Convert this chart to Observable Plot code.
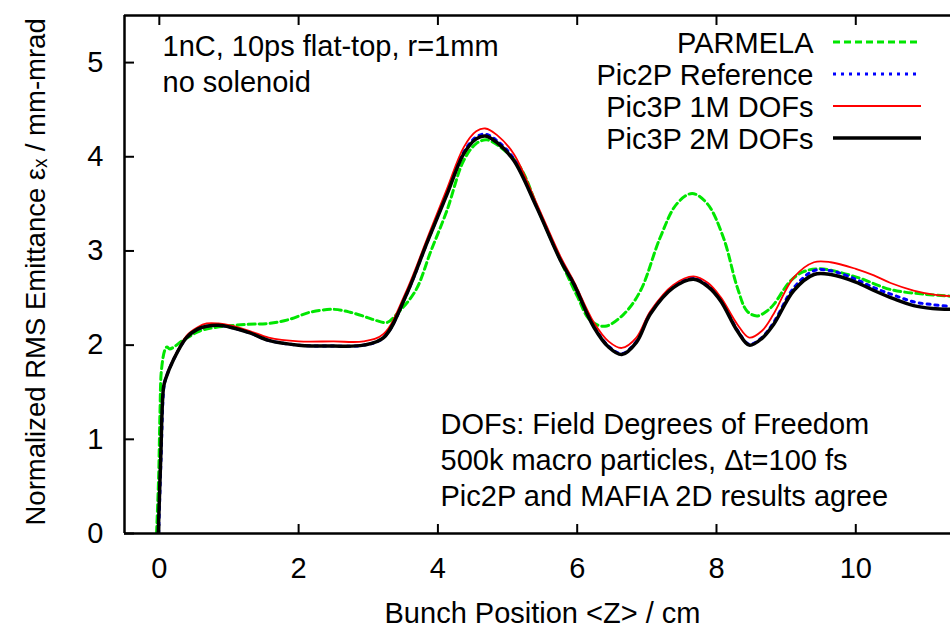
<!DOCTYPE html>
<html><head><meta charset="utf-8">
<script src="https://cdn.jsdelivr.net/npm/d3@7"></script>
<script src="https://cdn.jsdelivr.net/npm/@observablehq/plot@0.6"></script>
<style>html,body{margin:0;padding:0;background:#fff;overflow:hidden}</style>
</head><body><div id="chart"></div>
<script>
// ---- data ----
const seriesNames = ["PARMELA", "Pic2P Reference", "Pic3P 1M DOFs", "Pic3P 2M DOFs"];

const parmelaZ = [-0.04, -0.01, 0.01, 0.03, 0.08, 0.11, 0.15, 0.34, 0.58, 0.82, 1.26, 1.57, 1.85, 2.17, 2.50, 2.74, 3.0, 3.12, 3.27, 3.41, 3.68, 3.9, 4.13, 4.37, 4.55, 4.70, 4.9, 5.18, 5.45, 5.76, 6.0, 6.19, 6.40, 6.67, 6.91, 7.19, 7.43, 7.65, 7.87, 8.10, 8.30, 8.44, 8.58, 8.72, 8.82, 9.06, 9.25, 9.49, 10.02, 10.5, 11.0, 11.36];
const parmelaE = [0, 0.6, 1.3, 1.73, 1.95, 1.98, 1.96, 2.05, 2.15, 2.19, 2.22, 2.23, 2.27, 2.35, 2.38, 2.35, 2.29, 2.26, 2.24, 2.33, 2.58, 3.00, 3.43, 3.96, 4.14, 4.18, 4.10, 3.89, 3.42, 2.90, 2.52, 2.26, 2.20, 2.33, 2.58, 3.14, 3.50, 3.61, 3.50, 3.14, 2.61, 2.36, 2.31, 2.36, 2.43, 2.68, 2.78, 2.81, 2.72, 2.59, 2.54, 2.52];

const pic2pZ = [-0.01, 0.025, 0.065, 0.09, 0.2, 0.39, 0.55, 0.68, 0.85, 1.02, 1.3, 1.57, 2.0, 2.5, 2.93, 3.22, 3.55, 3.85, 4.13, 4.37, 4.55, 4.68, 4.85, 5.09, 5.42, 5.76, 5.95, 6.24, 6.45, 6.64, 6.85, 7.05, 7.38, 7.67, 7.88, 8.06, 8.30, 8.47, 8.65, 8.82, 9.11, 9.40, 9.64, 10.0, 10.26, 10.55, 10.83, 11.1, 11.36];
const pic2pE = [0, 0.8, 1.55, 1.64, 1.84, 2.08, 2.17, 2.20, 2.21, 2.19, 2.13, 2.05, 2.00, 1.99, 2.00, 2.08, 2.54, 3.10, 3.61, 4.05, 4.21, 4.24, 4.17, 3.98, 3.47, 2.91, 2.66, 2.20, 1.99, 1.91, 2.04, 2.34, 2.62, 2.71, 2.63, 2.48, 2.16, 2.01, 2.08, 2.24, 2.61, 2.79, 2.79, 2.70, 2.61, 2.53, 2.46, 2.43, 2.41];

const pic3p1mZ = [-0.015, 0.02, 0.06, 0.09, 0.2, 0.39, 0.55, 0.68, 0.85, 1.02, 1.3, 1.57, 2.0, 2.5, 2.93, 3.22, 3.55, 3.85, 4.13, 4.37, 4.55, 4.68, 4.85, 5.09, 5.42, 5.76, 5.95, 6.24, 6.45, 6.64, 6.85, 7.05, 7.38, 7.67, 7.88, 8.06, 8.30, 8.47, 8.65, 8.82, 9.11, 9.40, 9.64, 10.0, 10.26, 10.5, 10.83, 11.1, 11.36];
const pic3p1mE = [0, 0.8, 1.55, 1.65, 1.85, 2.10, 2.19, 2.23, 2.23, 2.21, 2.15, 2.08, 2.04, 2.04, 2.04, 2.12, 2.58, 3.14, 3.66, 4.10, 4.27, 4.30, 4.23, 4.03, 3.50, 2.94, 2.68, 2.24, 2.04, 1.97, 2.08, 2.36, 2.64, 2.73, 2.66, 2.51, 2.22, 2.08, 2.15, 2.33, 2.72, 2.88, 2.88, 2.81, 2.74, 2.66, 2.58, 2.54, 2.52];

const pic3p2mZ = [-0.015, 0.02, 0.06, 0.09, 0.2, 0.39, 0.55, 0.68, 0.85, 1.02, 1.3, 1.57, 2.0, 2.5, 2.93, 3.22, 3.55, 3.85, 4.13, 4.37, 4.55, 4.68, 4.85, 5.09, 5.42, 5.76, 5.95, 6.24, 6.45, 6.64, 6.85, 7.05, 7.38, 7.67, 7.88, 8.06, 8.30, 8.47, 8.65, 8.82, 9.11, 9.40, 9.64, 10.0, 10.26, 10.55, 10.83, 11.1, 11.36];
const pic3p2mE = [0, 0.8, 1.55, 1.64, 1.84, 2.08, 2.17, 2.20, 2.21, 2.19, 2.13, 2.05, 2.00, 1.99, 2.00, 2.08, 2.54, 3.10, 3.60, 4.03, 4.19, 4.22, 4.15, 3.96, 3.46, 2.90, 2.65, 2.19, 1.98, 1.90, 2.03, 2.33, 2.61, 2.70, 2.62, 2.47, 2.15, 2.00, 2.07, 2.22, 2.58, 2.75, 2.75, 2.67, 2.58, 2.49, 2.42, 2.39, 2.38];

const xTicks = [0, 2, 4, 6, 8, 10];
const yTicks = [0, 1, 2, 3, 4, 5];
const xLabel = "Bunch Position <Z> / cm";
const yLabel = "Normalized RMS Emittance εₓ / mm-mrad";
const noteTop = "1nC, 10ps flat-top, r=1mm\nno solenoid";
const noteBottom = "DOFs: Field Degrees of Freedom\n500k macro particles, Δt=100 fs\nPic2P and MAFIA 2D results agree";

// ---- build table ----
const seriesData = [[parmelaZ, parmelaE], [pic2pZ, pic2pE], [pic3p1mZ, pic3p1mE], [pic3p2mZ, pic3p2mE]];
const rows = [];
seriesData.forEach(([zs, es], i) => zs.forEach((z, j) => rows.push({series: seriesNames[i], z, e: es[j]})));

// ---- styles ----
const styles = {
  "PARMELA": {stroke: "#00e600", strokeWidth: 3, dash: "7,4"},
  "Pic2P Reference": {stroke: "#0000ff", strokeWidth: 3, dash: "3,5"},
  "Pic3P 1M DOFs": {stroke: "#ff0000", strokeWidth: 1.8, dash: null},
  "Pic3P 2M DOFs": {stroke: "#000000", strokeWidth: 3.5, dash: null}
};
const FONT = "Liberation Sans, Arimo, Arial, sans-serif";
const FS = 29;

const lineMarks = seriesNames.map(name => Plot.line(rows.filter(d => d.series === name), {
  x: "z", y: "e", curve: "catmull-rom", clip: true,
  stroke: styles[name].stroke, strokeWidth: styles[name].strokeWidth,
  strokeDasharray: styles[name].dash || undefined, strokeLinejoin: "round"
}));

const chart = Plot.plot({
  width: 950, height: 628,
  marginLeft: 124, marginRight: 0, marginTop: 15, marginBottom: 95,
  style: {fontFamily: FONT, fontSize: FS + "px", background: "#fff", color: "#000"},
  x: {domain: [-0.5, 11.36]},
  y: {domain: [0, 5.5]},
  marks: [
    ...lineMarks,
    Plot.ruleX([-0.5], {strokeWidth: 2.5}),
    Plot.ruleY([0, 5.5], {strokeWidth: 2.5}),
    Plot.axisX({ticks: xTicks, tickSize: -9, strokeWidth: 2, text: null, label: null}),
    Plot.axisX({anchor: "top", ticks: xTicks, tickSize: -9, strokeWidth: 2, text: null, label: null}),
    Plot.axisY({ticks: yTicks, tickSize: -10, strokeWidth: 2, text: null, label: null}),
    Plot.axisX({ticks: xTicks, tickFormat: d => String(d), tickSize: 0, tickPadding: 24, label: null, fontSize: FS, fontFamily: FONT}),
    Plot.axisY({ticks: yTicks, tickFormat: d => String(d), tickSize: 0, tickPadding: 21, label: null, fontSize: FS, fontFamily: FONT}),
    Plot.text([xLabel], {frameAnchor: "bottom", dx: 5, dy: 89, lineAnchor: "bottom", fontSize: FS, fontFamily: FONT}),
    Plot.text([yLabel], {frameAnchor: "bottom-left", rotate: -90, textAnchor: "start", lineAnchor: "bottom", dx: -80, dy: -8, fontSize: 27.5, fontFamily: FONT}),
    Plot.text([noteTop], {frameAnchor: "top-left", textAnchor: "start", lineAnchor: "bottom", lineHeight: 36 / FS, dx: 38, dy: 76, fontSize: FS, fontFamily: FONT}),
    Plot.text([noteBottom], {frameAnchor: "bottom-left", textAnchor: "start", lineAnchor: "bottom", lineHeight: 36 / FS, dx: 316, dy: -28, fontSize: FS, fontFamily: FONT}),
    Plot.text([seriesNames.join("\n")], {frameAnchor: "top-right", textAnchor: "end", lineAnchor: "bottom", lineHeight: 32 / FS, dx: -137, dy: 133, fontSize: FS, fontFamily: FONT})
  ]
});

// legend line samples
const svg = d3.select(chart);
const g = svg.append("g").attr("class", "legend-samples");
seriesNames.forEach((name, i) => {
  const s = styles[name];
  g.append("line")
    .attr("x1", 833).attr("x2", 921)
    .attr("y1", 42 + i * 32).attr("y2", 42 + i * 32)
    .attr("stroke", s.stroke).attr("stroke-width", s.strokeWidth)
    .attr("stroke-dasharray", s.dash);
});

document.getElementById("chart").appendChild(chart);
</script>
</body></html>
